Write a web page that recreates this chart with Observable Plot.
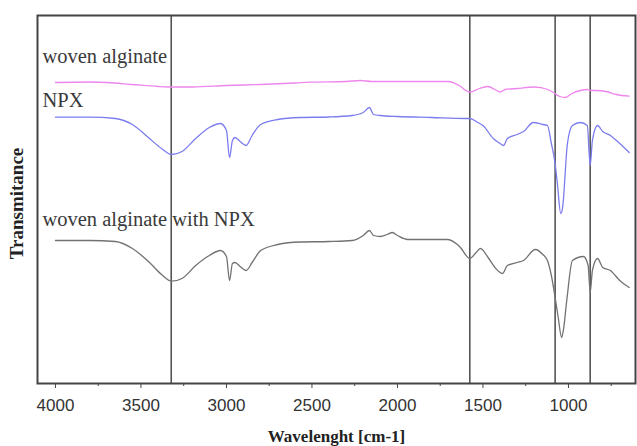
<!DOCTYPE html>
<html>
<head>
<meta charset="utf-8">
<script src="https://cdn.jsdelivr.net/npm/d3@7"></script>
<script src="https://cdn.jsdelivr.net/npm/@observablehq/plot@0.6"></script>
<style>
  html, body { margin: 0; padding: 0; background: #fff; }
  #chart svg { display: block; }
</style>
</head>
<body>
<div id="chart"></div>
<script>
// Wavenumber (cm-1) and transmittance (arbitrary units, offset per trace)
const alginateX = [4000,3800,3700,3550,3400,3320,3200,3000,2800,2600,2514,2300,2216,2150,2000,1800,1700,1640,1577,1520,1470,1430,1400,1370,1300,1200,1120,1080,1050,1018,980,930,890,873,840,780,720,645];
const alginateY = [301,301.5,301,299,297,296.5,296.5,298,299,300.5,301.3,302,303,302,302,302,302,298,291.5,295,297,294,291.5,294,295,296.5,294,290,287,286,290,293,294,293,293,292,289,287.3];

const npxX = [4000,3800,3650,3550,3450,3380,3320,3260,3180,3100,3035,3000,2982,2965,2950,2920,2885,2850,2800,2700,2570,2400,2265,2200,2164,2140,2100,2000,1800,1600,1577,1530,1500,1440,1400,1380,1357,1300,1263,1205,1150,1123,1100,1078,1065,1045,1035,1006,977,930,890,873,860,830,800,755,700,645];
const npxY = [266.3,266.3,265,259,245,235,229,232,245,256,260,253,226,243,246,242,238,248,259,264,266,266.5,268,271,276,269,268,267,266,265,265,261,258,245,240,238,245,249,252,261,259,258,240,220,200,170,175,240,258,261,258,218,243,258,252,248,240,231];

const mixX = [4000,3800,3650,3550,3450,3380,3320,3260,3180,3100,3035,3000,2982,2965,2950,2920,2885,2850,2800,2700,2570,2400,2265,2200,2164,2140,2100,2060,2030,2000,1940,1800,1710,1650,1632,1577,1540,1515,1470,1430,1386,1357,1300,1263,1193,1150,1123,1100,1078,1060,1040,1030,1010,977,912,885,873,860,830,800,755,700,645];
const mixY = [143,143,142,135,121,109,102.3,105,118,128,133,127,103,120,121,117,113,121,133,139,141.5,142,143,148,153,148,147,149,151,148,144,144,144,139,136,125,131,135,126,116,110,118,121,123,134,129,123,108,86,66,46,53,83,123,127,118,91,113,125,116,113,103,96];

const seriesNames = ["woven alginate", "NPX", "woven alginate with NPX"];
const seriesColors = ["#ee86ee", "#7c7cee", "#727272"];
const labelX = [4076, 4076, 4076];
const labelY = [321, 277, 158];

const peakLines = [3323, 1577, 1078, 873];
const majorTicks = [4000, 3500, 3000, 2500, 2000, 1500, 1000];
const minorTicks = [3750, 3250, 2750, 2250, 1750, 1250, 750];

const toRows = (xs, ys, s) => xs.map((x, i) => ({x, y: ys[i], s}));
const rows = [
  ...toRows(alginateX, alginateY, seriesNames[0]),
  ...toRows(npxX, npxY, seriesNames[1]),
  ...toRows(mixX, mixY, seriesNames[2])
];
const labels = seriesNames.map((n, i) => ({n, x: labelX[i], y: labelY[i]}));

const chart = Plot.plot({
  width: 637,
  height: 446,
  marginTop: 15,
  marginBottom: 63,
  marginLeft: 37,
  marginRight: 2,
  x: {domain: [4105, 608]},
  y: {domain: [0, 368], axis: null},
  color: {domain: seriesNames, range: seriesColors},
  marks: [
    Plot.ruleX(peakLines, {stroke: "#555", strokeWidth: 1.6}),
    Plot.line(rows, {x: "x", y: "y", z: "s", stroke: "s", strokeWidth: 1.3, curve: "monotone-x"}),
    Plot.text(labels, {x: "x", y: "y", text: "n", textAnchor: "start", lineAnchor: "bottom",
      fontFamily: "Liberation Serif, Times New Roman, serif", fontSize: 20.5, fill: "#3a3a3a"}),
    Plot.frame({stroke: "#444", strokeWidth: 2}),
    Plot.axisX({ticks: majorTicks, tickSize: 5, tickPadding: 10, tickFormat: d => String(d),
      label: null, fontSize: 17, fontFamily: "Liberation Sans, Arial, sans-serif", fill: "#333", stroke: "#444"}),
    Plot.axisX({ticks: minorTicks, tickSize: 3, tickFormat: () => "", label: null, stroke: "#444"}),
    Plot.text(["Wavelenght [cm-1]"], {frameAnchor: "bottom", dy: 58, text: d => d,
      fontFamily: "Liberation Serif, Times New Roman, serif", fontWeight: "bold", fontSize: 17, fill: "#222"}),
    Plot.text(["Transmitance"], {frameAnchor: "left", dx: -21, dy: 4, rotate: -90, textAnchor: "middle", text: d => d,
      fontFamily: "Liberation Serif, Times New Roman, serif", fontWeight: "bold", fontSize: 19, letterSpacing: 1, fill: "#222"})
  ]
});
document.getElementById("chart").appendChild(chart);
</script>
</body>
</html>
